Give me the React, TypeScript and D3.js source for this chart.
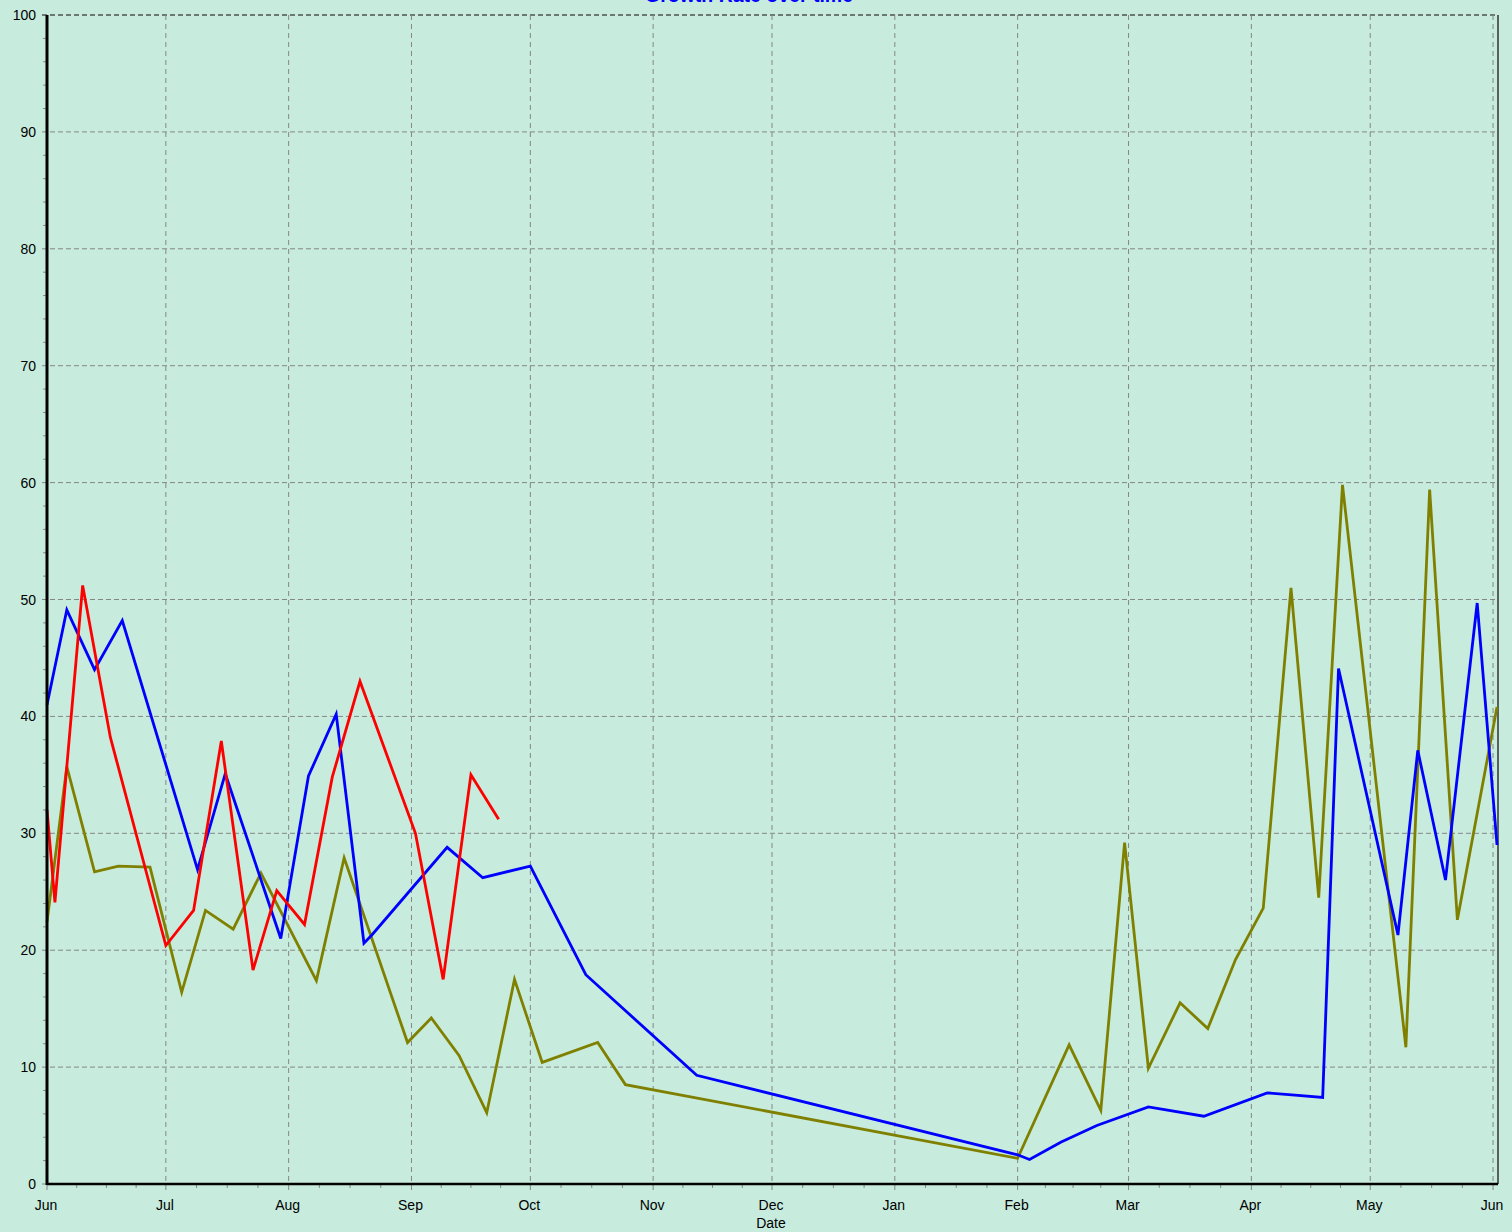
import React from "react";
import * as d3 from "d3";

const redDates = ["2010-06-01","2010-06-03","2010-06-10","2010-06-17","2010-07-01","2010-07-08","2010-07-15","2010-07-23","2010-07-29","2010-08-05","2010-08-12","2010-08-19","2010-09-02","2010-09-09","2010-09-16","2010-09-23"];
const redValues = [32.0,24.1,51.2,38.2,20.4,23.4,37.9,18.3,25.1,22.2,34.8,43.0,30.0,17.5,35.0,31.2];

const blueDates = ["2010-06-01","2010-06-06","2010-06-13","2010-06-20","2010-07-09","2010-07-16","2010-07-30","2010-08-06","2010-08-13","2010-08-20","2010-08-22","2010-09-10","2010-09-19","2010-10-01","2010-10-15","2010-11-12","2011-02-01","2011-02-04","2011-02-12","2011-02-21","2011-03-06","2011-03-20","2011-04-05","2011-04-12","2011-04-19","2011-04-23","2011-05-08","2011-05-13","2011-05-20","2011-05-28","2011-06-02"];
const blueValues = [41.0,49.1,44.0,48.2,26.9,35.1,21.0,34.9,40.2,20.6,21.3,28.8,26.2,27.2,17.9,9.3,2.5,2.1,3.6,5.0,6.6,5.8,7.8,7.6,7.4,44.1,21.3,37.1,26.0,49.7,29.0];

const oliveDates = ["2010-06-01","2010-06-06","2010-06-13","2010-06-19","2010-06-27","2010-07-05","2010-07-11","2010-07-18","2010-07-25","2010-08-08","2010-08-15","2010-08-31","2010-09-06","2010-09-13","2010-09-20","2010-09-27","2010-10-04","2010-10-18","2010-10-25","2011-02-01","2011-02-14","2011-02-22","2011-02-28","2011-03-06","2011-03-14","2011-03-21","2011-03-28","2011-04-04","2011-04-11","2011-04-18","2011-04-24","2011-05-10","2011-05-16","2011-05-23","2011-06-02"];
const oliveValues = [22.4,35.7,26.7,27.2,27.1,16.4,23.4,21.8,26.6,17.4,27.9,12.1,14.2,11.0,6.1,17.5,10.4,12.1,8.5,2.2,11.9,6.3,29.2,9.9,15.5,13.3,19.2,23.6,51.0,24.5,59.8,11.7,59.4,22.6,40.8];

const yTicks = [0,10,20,30,40,50,60,70,80,90,100];
const title = "Growth Rate over time";
const xTitle = "Date";

const W = 1512, H = 1232;
const left = 47, right = 1497, top = 15, bottom = 1184;
const parse = d3.timeParse("%Y-%m-%d");

export default function App() {
  const x = d3.scaleTime()
    .domain([parse("2010-06-01")!, parse("2011-06-02")!])
    .range([left, right]);
  const y = d3.scaleLinear().domain([0, 100]).range([bottom, top]);

  const months = d3.timeMonth.range(parse("2010-06-01")!, parse("2011-06-02")!);
  const minor: Date[] = [];
  months.forEach((m) => {
    const next = d3.timeMonth.offset(m, 1);
    const span = next.getTime() - m.getTime();
    for (let k = 1; k < 4; k++) {
      const d = new Date(m.getTime() + (span * k) / 4);
      if (x(d) < right) minor.push(d);
    }
  });
  const yMinor = d3.range(0, 101, 2).filter((v) => v % 10 !== 0);
  const fmt = d3.timeFormat("%b");

  const line = d3.line<[Date, number]>().x((d) => x(d[0])).y((d) => y(d[1]));
  const mk = (ds: string[], vs: number[]) =>
    ds.map((s, i) => [parse(s)!, vs[i]] as [Date, number]);
  const series = [
    { data: mk(oliveDates, oliveValues), color: "#808000" },
    { data: mk(blueDates, blueValues), color: "#0000ff" },
    { data: mk(redDates, redValues), color: "#ff0000" },
  ];

  const font = "'Liberation Sans', Arial, sans-serif";

  return (
    <svg width={W} height={H} style={{ position: "absolute", left: 0, top: 0, display: "block" }}>
      <rect x={0} y={0} width={W} height={H} fill="#c7ecdd" />
      <text x={749} y={2} textAnchor="middle" fontFamily={font} fontSize={19.5} fontWeight="bold" fill="#0000ff">{title}</text>
      {/* grid */}
      {yTicks.map((t) => (
        <line key={"gy" + t} x1={left - 5} x2={right} y1={y(t)} y2={y(t)}
          stroke={t === 100 ? "#505050" : "#858585"} strokeWidth={t === 100 ? 1.5 : 1} strokeDasharray="5,3" />
      ))}
      {months.map((m, i) => (
        <line key={"gx" + i} x1={x(m)} x2={x(m)} y1={top} y2={bottom + 6}
          stroke="#858585" strokeWidth={1} strokeDasharray="5,4" />
      ))}
      {/* minor ticks */}
      {minor.map((d, i) => (
        <line key={"mx" + i} x1={x(d)} x2={x(d)} y1={bottom} y2={bottom + 4} stroke="#888888" strokeWidth={1} />
      ))}
      {yMinor.map((v) => (
        <line key={"my" + v} x1={left - 4} x2={left} y1={y(v)} y2={y(v)} stroke="#888888" strokeWidth={1} />
      ))}
      {/* right border */}
      <line x1={right + 1} x2={right + 1} y1={top} y2={bottom} stroke="#333333" strokeWidth={1.5} />
      {/* series */}
      {series.map((s, i) => (
        <path key={"s" + i} d={line(s.data) || ""} fill="none" stroke={s.color} strokeWidth={2.8} strokeLinejoin="miter" />
      ))}
      {/* axes */}
      <line x1={left} x2={left} y1={top} y2={bottom + 1} stroke="#000" strokeWidth={3} />
      <line x1={left} x2={right + 1} y1={bottom} y2={bottom} stroke="#000" strokeWidth={2.5} />
      {yTicks.map((t) => (
        <text key={"ly" + t} x={36} y={y(t) + 5} textAnchor="end" fontFamily={font} fontSize={14} fill="#000">{t}</text>
      ))}
      {months.map((m, i) => (
        <text key={"lx" + i} x={x(m) - 1} y={1210} textAnchor="middle" fontFamily={font} fontSize={14} fill="#000">{fmt(m)}</text>
      ))}
      <text x={771} y={1228} textAnchor="middle" fontFamily={font} fontSize={14} fill="#000">{xTitle}</text>
    </svg>
  );
}
